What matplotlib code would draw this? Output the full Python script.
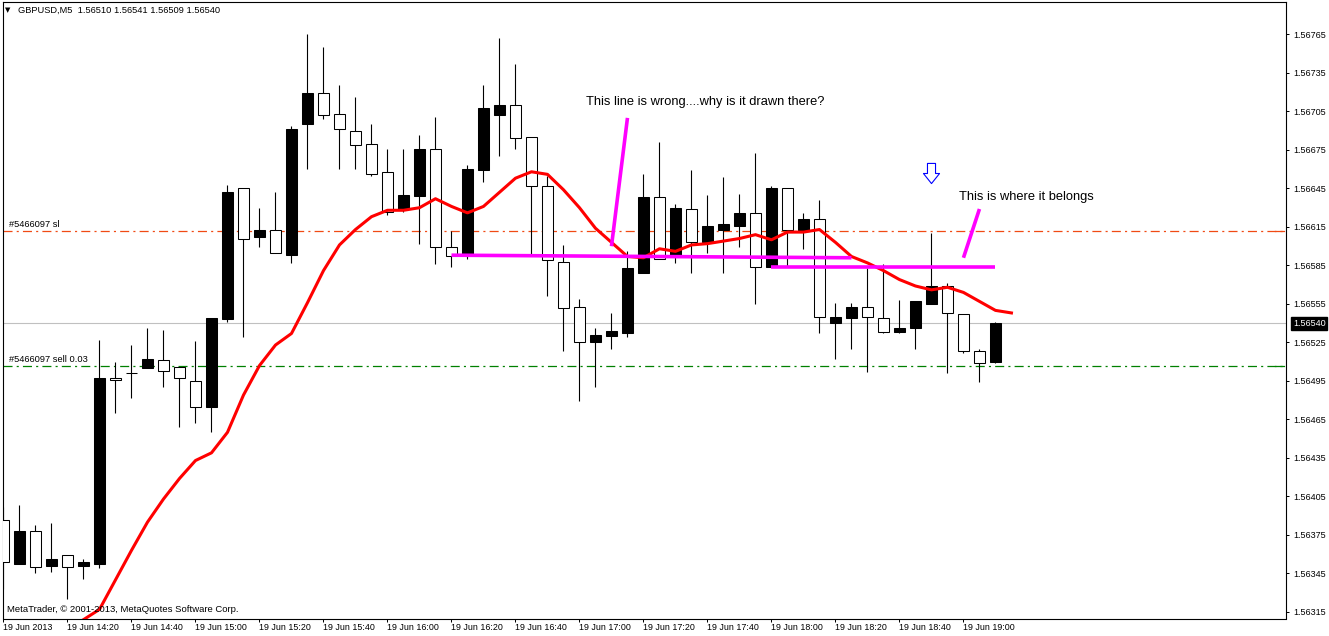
import matplotlib
matplotlib.use("Agg")
import matplotlib.pyplot as plt
import matplotlib.transforms as mtransforms
from matplotlib.path import Path
import numpy as np

# ---------------- data (GBPUSD M5, 19 Jun 2013, 14:00 .. 19:10) ----------------
opens = [1.56387, 1.56352, 1.56378, 1.56351, 1.56359, 1.56351, 1.56352, 1.56497, 1.56501, 1.56505,
         1.56511, 1.56506, 1.56495, 1.56475, 1.56543, 1.56645, 1.56607, 1.56613, 1.56593, 1.56695,
         1.56719, 1.56703, 1.56690, 1.56680, 1.56658, 1.56629, 1.56639, 1.56676, 1.56599, 1.56594,
         1.56659, 1.56702, 1.56710, 1.56685, 1.56647, 1.56588, 1.56553, 1.56525, 1.56530, 1.56532,
         1.56579, 1.56638, 1.56593, 1.56629, 1.56603, 1.56613, 1.56616, 1.56626, 1.56584, 1.56645,
         1.56613, 1.56621, 1.56540, 1.56544, 1.56553, 1.56544, 1.56533, 1.56536, 1.56555, 1.56569,
         1.56547, 1.56518, 1.56510]
highs = [1.56397, 1.56398, 1.56383, 1.56384, 1.56359, 1.56356, 1.56527, 1.56510, 1.56523, 1.56536,
         1.56535, 1.56506, 1.56526, 1.56544, 1.56648, 1.56645, 1.56630, 1.56642, 1.56694, 1.56765,
         1.56755, 1.56726, 1.56716, 1.56695, 1.56676, 1.56676, 1.56687, 1.56701, 1.56612, 1.56663,
         1.56726, 1.56762, 1.56742, 1.56685, 1.56655, 1.56601, 1.56559, 1.56536, 1.56548, 1.56596,
         1.56656, 1.56681, 1.56633, 1.56659, 1.56640, 1.56654, 1.56641, 1.56673, 1.56647, 1.56645,
         1.56626, 1.56636, 1.56556, 1.56556, 1.56583, 1.56586, 1.56558, 1.56557, 1.56610, 1.56571,
         1.56547, 1.56520, 1.56541]
lows = [1.56333, 1.56352, 1.56345, 1.56346, 1.56325, 1.56341, 1.56349, 1.56470, 1.56482, 1.56505,
        1.56490, 1.56459, 1.56462, 1.56455, 1.56541, 1.56529, 1.56599, 1.56595, 1.56587, 1.56660,
        1.56699, 1.56660, 1.56660, 1.56655, 1.56624, 1.56627, 1.56602, 1.56586, 1.56584, 1.56590,
        1.56650, 1.56670, 1.56676, 1.56594, 1.56561, 1.56518, 1.56479, 1.56490, 1.56520, 1.56529,
        1.56579, 1.56590, 1.56587, 1.56579, 1.56595, 1.56579, 1.56599, 1.56555, 1.56584, 1.56584,
        1.56598, 1.56532, 1.56512, 1.56520, 1.56502, 1.56532, 1.56532, 1.56520, 1.56555, 1.56501,
        1.56517, 1.56494, 1.56509]
closes = [1.56354, 1.56378, 1.56350, 1.56356, 1.56350, 1.56354, 1.56497, 1.56496, 1.56501, 1.56512,
          1.56503, 1.56497, 1.56475, 1.56544, 1.56642, 1.56606, 1.56613, 1.56595, 1.56691, 1.56719,
          1.56702, 1.56691, 1.56679, 1.56656, 1.56627, 1.56640, 1.56676, 1.56599, 1.56592, 1.56660,
          1.56708, 1.56710, 1.56684, 1.56647, 1.56589, 1.56552, 1.56525, 1.56531, 1.56534, 1.56583,
          1.56638, 1.56590, 1.56630, 1.56603, 1.56616, 1.56617, 1.56626, 1.56584, 1.56645, 1.56613,
          1.56621, 1.56545, 1.56545, 1.56553, 1.56545, 1.56533, 1.56536, 1.56557, 1.56569, 1.56548,
          1.56518, 1.56509, 1.56540]

# moving average (shifted one bar forward), bars 5 .. 63
ma_first_bar = 5
ma_values = [1.56309, 1.56317, 1.56340, 1.56363, 1.56385, 1.56403, 1.56419, 1.56433, 1.56439, 1.56455,
             1.56484, 1.56507, 1.56523, 1.56532, 1.56556, 1.56581, 1.56601, 1.56613, 1.56623, 1.56628,
             1.56628, 1.56630, 1.56637, 1.56631, 1.56626, 1.56631, 1.56642, 1.56653, 1.56658, 1.56656,
             1.56644, 1.56630, 1.56614, 1.56603, 1.56592, 1.56591, 1.56598, 1.56596, 1.56601, 1.56602,
             1.56604, 1.56606, 1.56609, 1.56605, 1.56611, 1.56611, 1.56613, 1.56603, 1.56592, 1.56587,
             1.56581, 1.56574, 1.56569, 1.56566, 1.56568, 1.56564, 1.56557, 1.56550, 1.56548]

xtick_bars = list(range(0, 61, 4))
xtick_labels = ["19 Jun 2013", "19 Jun 14:20", "19 Jun 14:40", "19 Jun 15:00", "19 Jun 15:20",
                "19 Jun 15:40", "19 Jun 16:00", "19 Jun 16:20", "19 Jun 16:40", "19 Jun 17:00",
                "19 Jun 17:20", "19 Jun 17:40", "19 Jun 18:00", "19 Jun 18:20", "19 Jun 18:40",
                "19 Jun 19:00"]
ytick_values = [1.56315 + 0.0003 * k for k in range(16)]

current_price = 1.56540
sl_price = 1.56612
sell_price = 1.56507

# user drawn trend lines (bar, price)
wrong_line = ([28, 53], [1.56593, 1.56591])
right_line = ([48, 62], [1.56584, 1.56584])
pointer1 = ([39.0, 38.0], [1.56700, 1.56600])
pointer2 = ([61.0, 60.0], [1.56629, 1.56591])

# ---------------- figure ----------------
plt.rcParams['font.family'] = ['Liberation Sans', 'DejaVu Sans']
plt.rcParams['lines.scale_dashes'] = False
W, H = 1329, 636
fig = plt.figure(figsize=(W / 100, H / 100), dpi=100)
fig.patch.set_facecolor('white')
left, right, top, bottom = 2.5, 1286, 2, 618.5
ax = fig.add_axes([left / W, 1 - bottom / H, (right - left) / W, (bottom - top) / H])
ax.set_facecolor('white')
ax.set_xlim(-0.0625, 80.16)
ax.set_ylim(1.563099, 1.567903)

o = np.array(opens); h = np.array(highs); l = np.array(lows); c = np.array(closes)
x = np.arange(len(o))
bull = c >= o

# wicks
ax.vlines(x, l, h, color='black', linewidth=0.8, zorder=2)
# bodies
body_bottom = np.minimum(o, c)
body_height = np.abs(c - o)
ax.bar(x[bull], body_height[bull], bottom=body_bottom[bull], width=0.68,
       color='black', edgecolor='black', linewidth=0.75, zorder=3)
ax.bar(x[~bull], body_height[~bull], bottom=body_bottom[~bull], width=0.68,
       color='white', edgecolor='black', linewidth=0.75, zorder=3)

# current price line
ax.axhline(current_price, color='#C0C0C0', linewidth=0.8, zorder=1)
# order lines
sl_color = '#F04A14'
ax.axhline(sl_price, color=sl_color, linewidth=0.9, dashes=(6.5, 3, 1.5, 3), zorder=1)
ax.axhline(sell_price, color='#008000', linewidth=0.9, dashes=(6.5, 3, 1.5, 3), zorder=1)
blend = mtransforms.blended_transform_factory(ax.transAxes, ax.transData)
mx = [(1275 - left) / (right - left), (1284 - left) / (right - left)]
ax.plot(mx, [sl_price, sl_price], color=sl_color, lw=0.9, transform=blend)
ax.plot(mx, [sell_price, sell_price], color='#008000', lw=0.9, transform=blend)
lx = (9 - left) / (right - left)
ax.annotate("#5466097 sl", xy=(lx, sl_price), xycoords=blend, xytext=(0, 1.2),
            textcoords='offset points', va='bottom', ha='left', fontsize=6.7)
ax.annotate("#5466097 sell 0.03", xy=(lx, sell_price), xycoords=blend, xytext=(0, 1.2),
            textcoords='offset points', va='bottom', ha='left', fontsize=6.7)

# moving average
ma_x = np.arange(ma_first_bar, ma_first_bar + len(ma_values))
ax.plot(ma_x, ma_values, color='#FF0000', linewidth=2.2, zorder=5, solid_joinstyle='round')

# magenta trend lines
for xs, ys in (wrong_line, right_line, pointer1, pointer2):
    ax.plot(xs, ys, color='#FF00FF', linewidth=2.6, zorder=6, solid_capstyle='butt')

# texts
ax.text(36.4, 1.56712, "This line is wrong....why is it drawn there?", fontsize=9.3,
        va='center', ha='left', zorder=7)
ax.text(59.7, 1.56638, "This is where it belongs", fontsize=9.3, va='center', ha='left', zorder=7)

# blue hollow down arrow
arrow = Path([(-0.2, 0.5), (0.2, 0.5), (0.2, 0.0), (0.4, 0.0), (0.0, -0.5),
              (-0.4, 0.0), (-0.2, 0.0), (-0.2, 0.5)],
             [Path.MOVETO] + [Path.LINETO] * 6 + [Path.CLOSEPOLY])
ax.plot([58], [1.56657], marker=arrow, markersize=14.5, markerfacecolor='none',
        markeredgecolor='#0000FF', markeredgewidth=0.8, linestyle='none', zorder=7)

# axes / ticks
for s in ax.spines.values():
    s.set_color('black'); s.set_linewidth(0.8)
ax.yaxis.tick_right()
ax.set_yticks(ytick_values)
ax.set_yticklabels([f"{v:.5f}" for v in ytick_values])
ax.tick_params(axis='y', direction='out', length=2.2, width=0.72, pad=2.8, labelsize=6.5)
ax.set_xticks(xtick_bars)
ax.set_xticklabels(xtick_labels, ha='left')
ax.tick_params(axis='x', direction='out', length=2.5, width=0.72, pad=0.6, labelsize=6.4)

# current price box
ax.annotate(f"{current_price:.5f}", xy=(1.0, current_price), xycoords=blend,
            xytext=(5.0, 0), textcoords='offset points', va='center', ha='left',
            fontsize=6.5, color='white',
            bbox=dict(boxstyle='square,pad=0.2', facecolor='black', edgecolor='black'),
            annotation_clip=False)

# header and footer
fig.text(8 / W, 1 - 10 / H, "\u25BC", fontsize=5, va='center', ha='center',
         family=['DejaVu Sans'])
fig.text(18 / W, 1 - 10 / H, "GBPUSD,M5  1.56510 1.56541 1.56509 1.56540", fontsize=6.7,
         va='center', ha='left')
fig.text(7 / W, 1 - 610 / H, "MetaTrader, \u00A9 2001-2013, MetaQuotes Software Corp.",
         fontsize=6.8, va='center', ha='left')

fig.savefig("out.png", dpi=100, facecolor='white')
